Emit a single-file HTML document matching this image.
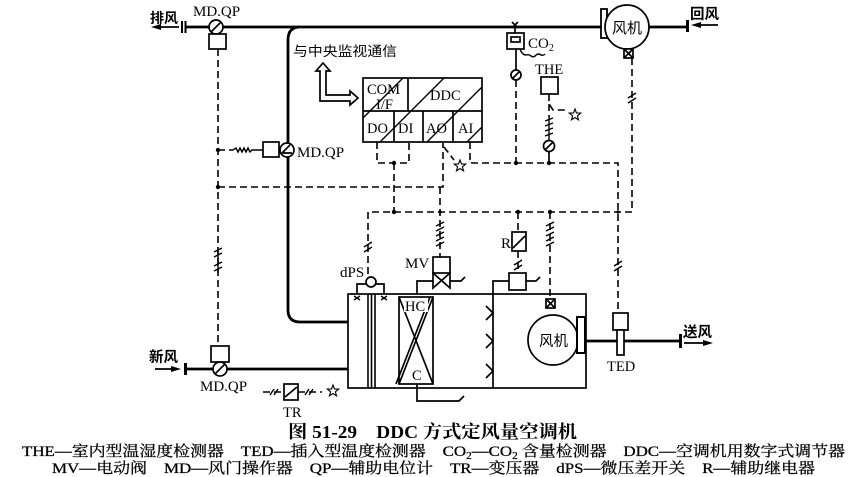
<!DOCTYPE html>
<html><head><meta charset="utf-8"><style>
html,body{margin:0;padding:0;background:#fff;}
svg{display:block;}
.l{stroke:#000;fill:none;stroke-width:1.7}
.lw{stroke:#000;fill:#fff;stroke-width:1.7}
.t{stroke:#000;fill:none;stroke-width:2.8}
.d{stroke:#000;fill:none;stroke-width:1.6;stroke-dasharray:7 4}
.s{stroke:#000;fill:none;stroke-width:1.4}
text{font-family:"Liberation Serif","Noto Serif CJK SC",serif;fill:#000}
.c{font-family:"Liberation Sans","Noto Sans CJK SC",sans-serif;}
.cap{stroke:#000;stroke-width:0.25}
</style></head><body>
<svg width="864" height="477" viewBox="0 0 864 477" xmlns="http://www.w3.org/2000/svg">
<defs>
<polygon id="star" points="0,-6 1.47,-2.02 5.71,-1.85 2.38,0.77 3.53,4.85 0,2.5 -3.53,4.85 -2.38,0.77 -5.71,-1.85 -1.47,-2.02" fill="#fff" stroke="#000" stroke-width="1.1"/>
<clipPath id="ddc"><rect x="363" y="78" width="119" height="64"/></clipPath>
</defs>

<!-- ===== top exhaust duct ===== -->
<text x="150" y="23" font-size="14" class="c" font-weight="bold">排风</text>
<path class="l" d="M179 27 H158"/>
<polygon points="151,27 161,24 161,30"/>
<path stroke="#000" stroke-width="2" d="M182 21 V33 M185.5 21 V33"/>
<path class="t" d="M186 27 H601"/>
<text x="193" y="16" font-size="15">MD.QP</text>
<circle class="lw" cx="216" cy="27" r="7"/>
<path class="l" d="M211 32 L221 22"/>
<rect class="lw" x="209" y="34" width="17" height="15"/>
<!-- main return branch (thick) -->
<path class="t" d="M300 27 Q288 27 288 40 V310 Q288 322 300 322 H348"/>

<!-- left dashed vertical -->
<path class="d" d="M218 49 V346"/>
<circle cx="218" cy="150" r="2.2"/>
<circle cx="218" cy="187" r="2.2"/>
<path class="s" d="M214 252 l8 -4 M214 257 l8 -4 M214 266 l8 -4 M214 271 l8 -4 M218 250 V273"/>

<!-- middle MD.QP -->
<path class="d" d="M218 150 H233"/>
<path class="s" d="M233 150 l3 -2 l2 4 l2 -4 l2 4 l2 -4 l2 4 l2 -4 l2 4 l2 -2 H263"/>
<rect class="lw" x="263" y="142" width="16" height="15"/>
<circle class="lw" cx="287" cy="150" r="7"/>
<path class="l" d="M282 153 H292 M282 153 L290 145"/>
<text x="297" y="157" font-size="15">MD.QP</text>

<!-- communication arrow -->
<text x="293" y="56" font-size="13.5" class="c" textLength="104" lengthAdjust="spacingAndGlyphs">与中央监视通信</text>
<polygon class="lw" points="323,63 330,71 326,71 326,95 350,95 350,91 358,98 350,105 350,101 320,101 320,71 316,71"/>

<!-- DDC box -->
<rect class="l" x="363" y="78" width="119" height="64"/>
<path class="l" d="M363 111 H482 M408 78 V111 M394 111 V142 M423 111 V142 M453 111 V142"/>
<g clip-path="url(#ddc)" class="s">
<path d="M355 126 L410 71 M378 144 L446 76 M425 144 L484 85 M465 144 L484 125"/>
</g>
<text x="367" y="94" font-size="14.5">COM</text>
<text x="376" y="109" font-size="14.5">I/F</text>
<text x="430" y="100" font-size="14.5">DDC</text>
<text x="367" y="133" font-size="14.5">DO</text>
<text x="398" y="133" font-size="14.5">DI</text>
<text x="426" y="133" font-size="14.5">AO</text>
<text x="458" y="133" font-size="14.5">AI</text>

<!-- DO/DI link -->
<path class="d" d="M377 142 V163 H409 V142"/>
<circle cx="394" cy="163" r="2.2"/>
<path class="d" d="M394 163 V212"/>
<!-- y=187 line to AO -->
<path class="d" d="M218 187 H443 V143"/>
<path class="d" d="M444 147 L454 160"/>
<use href="#star" x="460" y="166"/>
<!-- AI line -->
<path class="d" d="M470 142 V163 H618 V313"/>
<circle cx="516" cy="163" r="2.2"/>
<circle cx="549" cy="163" r="2.2"/>
<path class="s" d="M614 266 l8 -5 M614 271 l8 -5"/>

<!-- CO2 sensor -->
<path class="l" d="M512 22 l6 6 M518 22 l-6 6"/>
<path class="l" d="M515 27 V33"/>
<rect class="lw" x="507" y="33" width="17" height="16"/>
<rect class="l" x="511" y="37" width="9" height="5"/>
<text x="528" y="48" font-size="15">CO<tspan font-size="10" dy="3">2</tspan></text>
<path class="s" d="M520 49 q2 6 6 6 q3 -1 5 1 q3 2 5 -1 q3 -2 5 0 q2 1 4 -1"/>
<path class="l" d="M516 49 V70"/>
<circle class="lw" cx="516" cy="75" r="5"/>
<path class="l" d="M512 79 L520 71"/>
<path class="d" d="M516 80 V163"/>

<!-- THE sensor -->
<text x="535" y="74" font-size="14.5">THE</text>
<rect class="lw" x="541" y="77" width="17" height="17"/>
<path class="d" d="M549 94 V104 L553 110 H565"/>
<use href="#star" x="575" y="115"/>
<path class="d" d="M549 104 V117"/>
<path class="s" d="M549 117 V140 M545 121 l8 -3 M545 126 l8 -3 M545 131 l8 -3 M545 136 l8 -3"/>
<circle class="lw" cx="549" cy="146" r="5.5"/>
<path class="l" d="M545 150 L553 142"/>
<path class="l" d="M549 152 V163"/>

<!-- top fan -->
<rect x="601" y="9" width="6" height="29" fill="#fff" stroke="#000" stroke-width="1.8"/>
<circle class="lw" cx="627" cy="27" r="22" stroke-width="1.8"/>
<text x="612" y="33" font-size="15" class="c">风机</text>
<path class="t" d="M649 27 H686"/>
<path stroke="#000" stroke-width="3" d="M687.5 20 V32"/>
<path class="l" d="M718 25 H697"/>
<polygon points="691,25 701,22 701,28"/>
<text x="690" y="19" font-size="14.5" class="c" font-weight="bold">回风</text>
<rect class="lw" x="624" y="49" width="9" height="9"/>
<path class="l" d="M624 49 L633 58 M633 49 L624 58"/>
<path class="d" d="M632 58 V212 H368 V276"/>
<path class="s" d="M628 98 l8 -5 M628 103 l8 -5"/>
<path class="s" d="M364 247 l8 -5 M364 252 l8 -5"/>
<circle cx="394" cy="212" r="2.2"/>
<circle cx="518" cy="212" r="2.2"/>
<circle cx="550" cy="212" r="2.2"/>
<circle cx="440" cy="212" r="1.6"/>
<circle cx="618" cy="212" r="1.6"/>

<!-- MV -->
<path class="d" d="M440 187 V257"/>
<path class="s" d="M436 226 l8 -4 M436 231 l8 -4 M436 236 l8 -4 M436 241 l8 -4 M436 246 l8 -4"/>
<text x="405" y="268" font-size="15">MV</text>
<rect class="lw" x="433" y="257" width="17" height="16"/>
<path class="l" d="M433 273 L450 288 V273 L433 288 Z"/>
<path class="l" d="M433 281 H417 V294 M450 281 H461 l4 -4"/>

<!-- R relay -->
<path class="d" d="M518 212 V232"/>
<text x="501" y="248" font-size="15">R</text>
<rect class="lw" x="512" y="232" width="14" height="19"/>
<path class="l" d="M513 248 L525 236"/>
<path class="d" d="M518 251 V273"/>
<path class="s" d="M514 265 l8 -5 M514 270 l8 -5"/>
<rect class="lw" x="509" y="273" width="17" height="17"/>
<path class="l" d="M509 281 H493 V388 M526 281 H536 l4 -4"/>

<!-- damper in AHU -->
<path class="d" d="M550 212 V299"/>
<path class="s" d="M546 226 l8 -4 M546 231 l8 -4 M546 236 l8 -4 M546 241 l8 -4 M546 246 l8 -4"/>
<rect class="lw" x="546" y="299" width="9" height="9"/>
<path class="l" d="M546 299 L555 308 M555 299 L546 308"/>

<!-- dPS -->
<text x="340" y="277" font-size="15">dPS</text>
<circle class="lw" cx="371" cy="282" r="5"/>
<path class="l" d="M366 284 H357 V294 M376 284 H384 V294"/>
<path class="s" d="M354 296 l6 4 M360 296 l-6 4 M381 296 l6 4 M387 296 l-6 4"/>

<!-- AHU -->
<rect class="l" x="348" y="294" width="238" height="94"/>
<path stroke="#000" stroke-width="1.6" d="M368 294 V388 M371.5 294 V388 M375 294 V388"/>
<rect class="l" x="399" y="297" width="34" height="87"/>
<path class="l" d="M399 297 L433 384 M433 297 L399 384 M430 297 L396 384"/>
<rect x="404" y="299" width="24" height="13" fill="#fff"/>
<text x="405" y="311" font-size="14.5">HC</text>
<rect x="411" y="367" width="11" height="14" fill="#fff"/>
<text x="412" y="380" font-size="14.5">C</text>
<path class="l" d="M417 384 V401 H459 l5 -5"/>
<path class="l" d="M486 306 L493 313 L486 320 M486 334 L493 341 L486 348 M486 364 L493 371 L486 378"/>
<circle class="lw" cx="553" cy="340" r="25"/>
<text x="539" y="346" font-size="14.5" class="c">风机</text>
<rect x="577" y="317" width="8" height="36" fill="#fff" stroke="#000" stroke-width="2"/>
<path class="t" d="M586 341 H679"/>
<path stroke="#000" stroke-width="3" d="M680.5 334 V348"/>
<path class="l" d="M684 343 H706"/>
<polygon points="713,343 703,340 703,346"/>
<text x="683" y="337" font-size="14.5" class="c" font-weight="bold">送风</text>

<!-- TED -->
<rect class="lw" x="613" y="313" width="15" height="17"/>
<rect class="lw" x="617" y="330" width="7" height="25"/>
<text x="607" y="371" font-size="14.5">TED</text>

<!-- fresh air inlet -->
<text x="149" y="362" font-size="14.5" class="c" font-weight="bold">新风</text>
<path class="l" d="M155 369 H174"/>
<polygon points="181,369 171,366 171,372"/>
<path stroke="#000" stroke-width="3" d="M185.5 363 V375"/>
<path class="t" d="M187 369 H348"/>
<rect class="lw" x="211" y="346" width="18" height="16"/>
<circle class="lw" cx="220" cy="369" r="7"/>
<path class="l" d="M215 374 L225 364"/>
<text x="200" y="391" font-size="15">MD.QP</text>

<!-- TR -->
<path class="d" d="M263 392 H284"/>
<path class="s" d="M270 395 l4 -6 M274 395 l4 -6"/>
<rect class="lw" x="284" y="384" width="14" height="16"/>
<path class="l" d="M285 397 L297 387"/>
<path class="d" d="M298 392 H322"/>
<path class="s" d="M305 395 l4 -6 M309 395 l4 -6"/>
<use href="#star" x="333" y="391"/>
<text x="283" y="417" font-size="14.5">TR</text>

<!-- caption -->
<text x="288" y="438" font-size="18" font-weight="bold" textLength="289" lengthAdjust="spacingAndGlyphs">图 51-29　DDC 方式定风量空调机</text>
<text class="cap" x="22" y="456" font-size="15" textLength="823" lengthAdjust="spacingAndGlyphs">THE—室内型温湿度检测器　TED—插入型温度检测器　CO<tspan font-size="10" dy="3">2</tspan><tspan dy="-3">—CO</tspan><tspan font-size="10" dy="3">2</tspan><tspan dy="-3"> 含量检测器　DDC—空调机用数字式调节器</tspan></text>
<text class="cap" x="52" y="473" font-size="15" textLength="763" lengthAdjust="spacingAndGlyphs">MV—电动阀　MD—风门操作器　QP—辅助电位计　TR—变压器　dPS—微压差开关　R—辅助继电器</text>
</svg>
</body></html>
